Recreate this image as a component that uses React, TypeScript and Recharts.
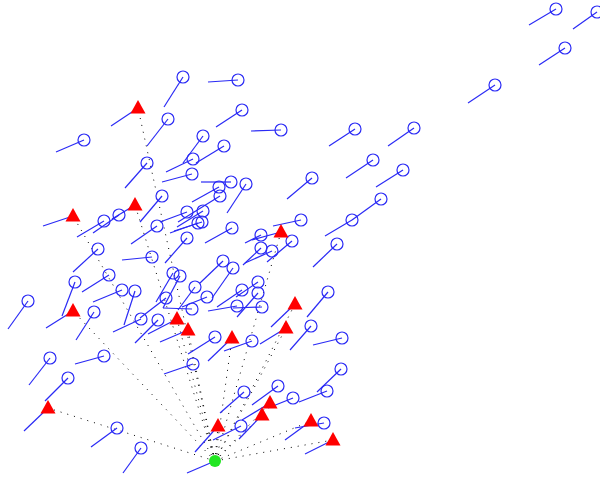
import React from 'react';
import { ScatterChart, Scatter, XAxis, YAxis, ReferenceLine } from 'recharts';

// Each entry: marker position (x, y) and start of its tail (tx, ty)
const circlePoints = [
  { x: 556, y: 9, tx: 529, ty: 25 },
  { x: 597, y: 12, tx: 573, ty: 29 },
  { x: 565, y: 48, tx: 539, ty: 65 },
  { x: 495, y: 85, tx: 468, ty: 103 },
  { x: 183, y: 77, tx: 164, ty: 107 },
  { x: 238, y: 80, tx: 208, ty: 82 },
  { x: 242, y: 110, tx: 216, ty: 127 },
  { x: 168, y: 119, tx: 147, ty: 146 },
  { x: 281, y: 130, tx: 251, ty: 131 },
  { x: 84, y: 140, tx: 56, ty: 152 },
  { x: 355, y: 129, tx: 329, ty: 146 },
  { x: 414, y: 128, tx: 388, ty: 146 },
  { x: 203, y: 136, tx: 183, ty: 163 },
  { x: 224, y: 146, tx: 196, ty: 163 },
  { x: 147, y: 163, tx: 125, ty: 188 },
  { x: 193, y: 159, tx: 166, ty: 172 },
  { x: 192, y: 174, tx: 162, ty: 182 },
  { x: 373, y: 160, tx: 346, ty: 178 },
  { x: 403, y: 170, tx: 376, ty: 187 },
  { x: 312, y: 178, tx: 287, ty: 199 },
  { x: 231, y: 182, tx: 201, ty: 182 },
  { x: 246, y: 184, tx: 227, ty: 213 },
  { x: 219, y: 187, tx: 192, ty: 202 },
  { x: 220, y: 196, tx: 178, ty: 222 },
  { x: 162, y: 196, tx: 140, ty: 222 },
  { x: 381, y: 199, tx: 352, ty: 220 },
  { x: 352, y: 220, tx: 325, ty: 236 },
  { x: 301, y: 220, tx: 273, ty: 226 },
  { x: 187, y: 212, tx: 160, ty: 222 },
  { x: 203, y: 211, tx: 177, ty: 227 },
  { x: 198, y: 223, tx: 170, ty: 233 },
  { x: 202, y: 222, tx: 174, ty: 231 },
  { x: 157, y: 226, tx: 131, ty: 244 },
  { x: 104, y: 221, tx: 77, ty: 237 },
  { x: 119, y: 215, tx: 93, ty: 233 },
  { x: 232, y: 228, tx: 205, ty: 243 },
  { x: 187, y: 238, tx: 165, ty: 263 },
  { x: 261, y: 235, tx: 245, ty: 243 },
  { x: 292, y: 241, tx: 267, ty: 262 },
  { x: 261, y: 248, tx: 243, ty: 265 },
  { x: 272, y: 251, tx: 245, ty: 263 },
  { x: 337, y: 244, tx: 313, ty: 267 },
  { x: 98, y: 249, tx: 73, ty: 272 },
  { x: 152, y: 257, tx: 122, ty: 260 },
  { x: 223, y: 261, tx: 200, ty: 283 },
  { x: 233, y: 268, tx: 212, ty: 298 },
  { x: 173, y: 273, tx: 156, ty: 302 },
  { x: 180, y: 276, tx: 163, ty: 308 },
  { x: 109, y: 275, tx: 82, ty: 292 },
  { x: 75, y: 282, tx: 62, ty: 316 },
  { x: 28, y: 301, tx: 8, ty: 329 },
  { x: 122, y: 290, tx: 93, ty: 302 },
  { x: 135, y: 291, tx: 124, ty: 325 },
  { x: 195, y: 287, tx: 178, ty: 310 },
  { x: 207, y: 297, tx: 182, ty: 307 },
  { x: 166, y: 298, tx: 140, ty: 318 },
  { x: 192, y: 309, tx: 163, ty: 308 },
  { x: 258, y: 282, tx: 236, ty: 297 },
  { x: 242, y: 290, tx: 217, ty: 307 },
  { x: 258, y: 293, tx: 237, ty: 317 },
  { x: 237, y: 306, tx: 208, ty: 311 },
  { x: 262, y: 307, tx: 233, ty: 308 },
  { x: 328, y: 292, tx: 307, ty: 317 },
  { x: 311, y: 326, tx: 290, ty: 350 },
  { x: 342, y: 338, tx: 313, ty: 345 },
  { x: 94, y: 312, tx: 76, ty: 340 },
  { x: 141, y: 319, tx: 113, ty: 332 },
  { x: 158, y: 320, tx: 135, ty: 343 },
  { x: 215, y: 337, tx: 188, ty: 354 },
  { x: 252, y: 341, tx: 224, ty: 351 },
  { x: 193, y: 364, tx: 164, ty: 374 },
  { x: 341, y: 369, tx: 317, ty: 392 },
  { x: 50, y: 358, tx: 29, ty: 385 },
  { x: 104, y: 356, tx: 75, ty: 364 },
  { x: 68, y: 378, tx: 45, ty: 401 },
  { x: 244, y: 392, tx: 220, ty: 413 },
  { x: 278, y: 386, tx: 252, ty: 405 },
  { x: 293, y: 398, tx: 268, ty: 408 },
  { x: 327, y: 391, tx: 299, ty: 402 },
  { x: 241, y: 426, tx: 213, ty: 440 },
  { x: 324, y: 423, tx: 295, ty: 428 },
  { x: 117, y: 428, tx: 91, ty: 447 },
  { x: 141, y: 448, tx: 123, ty: 473 },
];

const trianglePoints = [
  { x: 138, y: 108, tx: 111, ty: 126 },
  { x: 73, y: 216, tx: 43, ty: 226 },
  { x: 135, y: 205, tx: 112, ty: 219 },
  { x: 281, y: 232, tx: 252, ty: 240 },
  { x: 73, y: 311, tx: 46, ty: 328 },
  { x: 48, y: 408, tx: 24, ty: 431 },
  { x: 177, y: 319, tx: 148, ty: 334 },
  { x: 188, y: 330, tx: 160, ty: 342 },
  { x: 295, y: 304, tx: 271, ty: 327 },
  { x: 286, y: 328, tx: 260, ty: 344 },
  { x: 232, y: 338, tx: 208, ty: 361 },
  { x: 218, y: 426, tx: 195, ty: 452 },
  { x: 262, y: 415, tx: 239, ty: 439 },
  { x: 270, y: 403, tx: 242, ty: 420 },
  { x: 311, y: 421, tx: 285, ty: 440 },
  { x: 333, y: 440, tx: 305, ty: 454 },
];

const sourcePoints = [{ x: 215, y: 461, tx: 187, ty: 473 }];

const BLUE = '#2a2af5';
const RED = '#ff0000';
const GREEN = '#22e622';

const CircleShape = (props: any) => (
  <circle cx={props.cx} cy={props.cy} r={6} fill="none" stroke={BLUE} strokeWidth={1.2} />
);

const TriangleShape = (props: any) => {
  const { cx, cy } = props;
  return (
    <path
      d={`M${cx},${cy - 8}L${cx + 7.5},${cy + 5.5}L${cx - 7.5},${cy + 5.5}Z`}
      fill={RED}
      stroke="none"
    />
  );
};

const SourceShape = (props: any) => (
  <circle cx={props.cx} cy={props.cy} r={6} fill={GREEN} stroke="none" />
);

export default function App() {
  const src = sourcePoints[0];
  return (
    <div style={{ position: 'absolute', left: 0, top: 0, background: '#fff' }}>
      <ScatterChart width={600} height={479} margin={{ top: 0, right: 0, bottom: 0, left: 0 }}>
        <XAxis type="number" dataKey="x" domain={[0, 600]} hide allowDataOverflow />
        <YAxis type="number" dataKey="y" domain={[0, 479]} reversed hide allowDataOverflow />
        {trianglePoints.map((t, i) => (
          <ReferenceLine
            key={`d${i}`}
            segment={[{ x: src.x, y: src.y }, { x: t.x, y: t.y }]}
            stroke="#000"
            strokeWidth={1}
            strokeDasharray="1 6"
            ifOverflow="visible"
          />
        ))}
        {[...circlePoints, ...trianglePoints, ...sourcePoints].map((p, i) => (
          <ReferenceLine
            key={`t${i}`}
            segment={[{ x: p.tx, y: p.ty }, { x: p.x, y: p.y }]}
            stroke={BLUE}
            strokeWidth={1.2}
            ifOverflow="visible"
          />
        ))}
        <Scatter data={circlePoints} shape={CircleShape} isAnimationActive={false} />
        <Scatter data={trianglePoints} shape={TriangleShape} isAnimationActive={false} />
        <Scatter data={sourcePoints} shape={SourceShape} isAnimationActive={false} />
      </ScatterChart>
    </div>
  );
}
